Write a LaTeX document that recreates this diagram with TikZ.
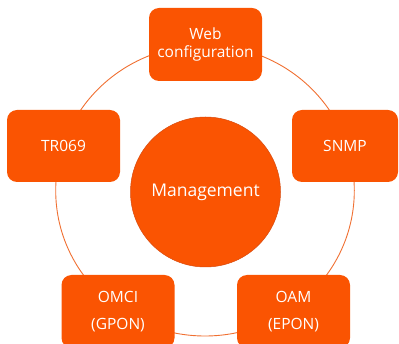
\documentclass[tikz,border=0pt]{standalone}
\usepackage{fontspec}
\setmainfont{Open Sans}
\definecolor{boxorange}{RGB}{250,84,2}
\definecolor{ringorange}{RGB}{240,112,50}
\definecolor{edgeorange}{RGB}{215,75,15}
\tikzset{
  mgmtbox/.style={draw=none, fill=boxorange, rounded corners=10pt, text=white,
    align=center, inner sep=0pt, font=\fontsize{15.5}{18}\selectfont},
  hub/.style={circle, fill=boxorange, draw=edgeorange, line width=0.5pt,
    minimum size=150pt, inner sep=0pt, text=white, font=\fontsize{17.5}{21}\selectfont},
  ringline/.style={draw=ringorange, line width=0.9pt}
}
\begin{document}
\begin{tikzpicture}[x=1pt,y=1pt]
\useasboundingbox (0,0) rectangle (399,-344);
\clip (0,0) rectangle (399,-344);
\coordinate (ringc) at (205,-190.6);
\draw[ringline] (ringc) ellipse [x radius=149.3, y radius=145.4];
\node[hub] (mgmt) at (205.5,-192) {Management};
\node[mgmtbox, minimum width=113pt, minimum height=73pt] (web) at (205.5,-44.5) {Web\\configuration};
\node[mgmtbox, minimum width=113pt, minimum height=72pt] (tr) at (63.5,-146) {TR069};
\node[mgmtbox, minimum width=106pt, minimum height=72pt] (snmp) at (345,-146) {SNMP};
\node[mgmtbox, minimum width=113pt, minimum height=73pt] (omci) at (118,-311.5) {OMCI\\[9pt](GPON)};
\node[mgmtbox, minimum width=113pt, minimum height=73pt] (oam) at (293.5,-311.5) {OAM\\[9pt](EPON)};
\end{tikzpicture}
\end{document}
